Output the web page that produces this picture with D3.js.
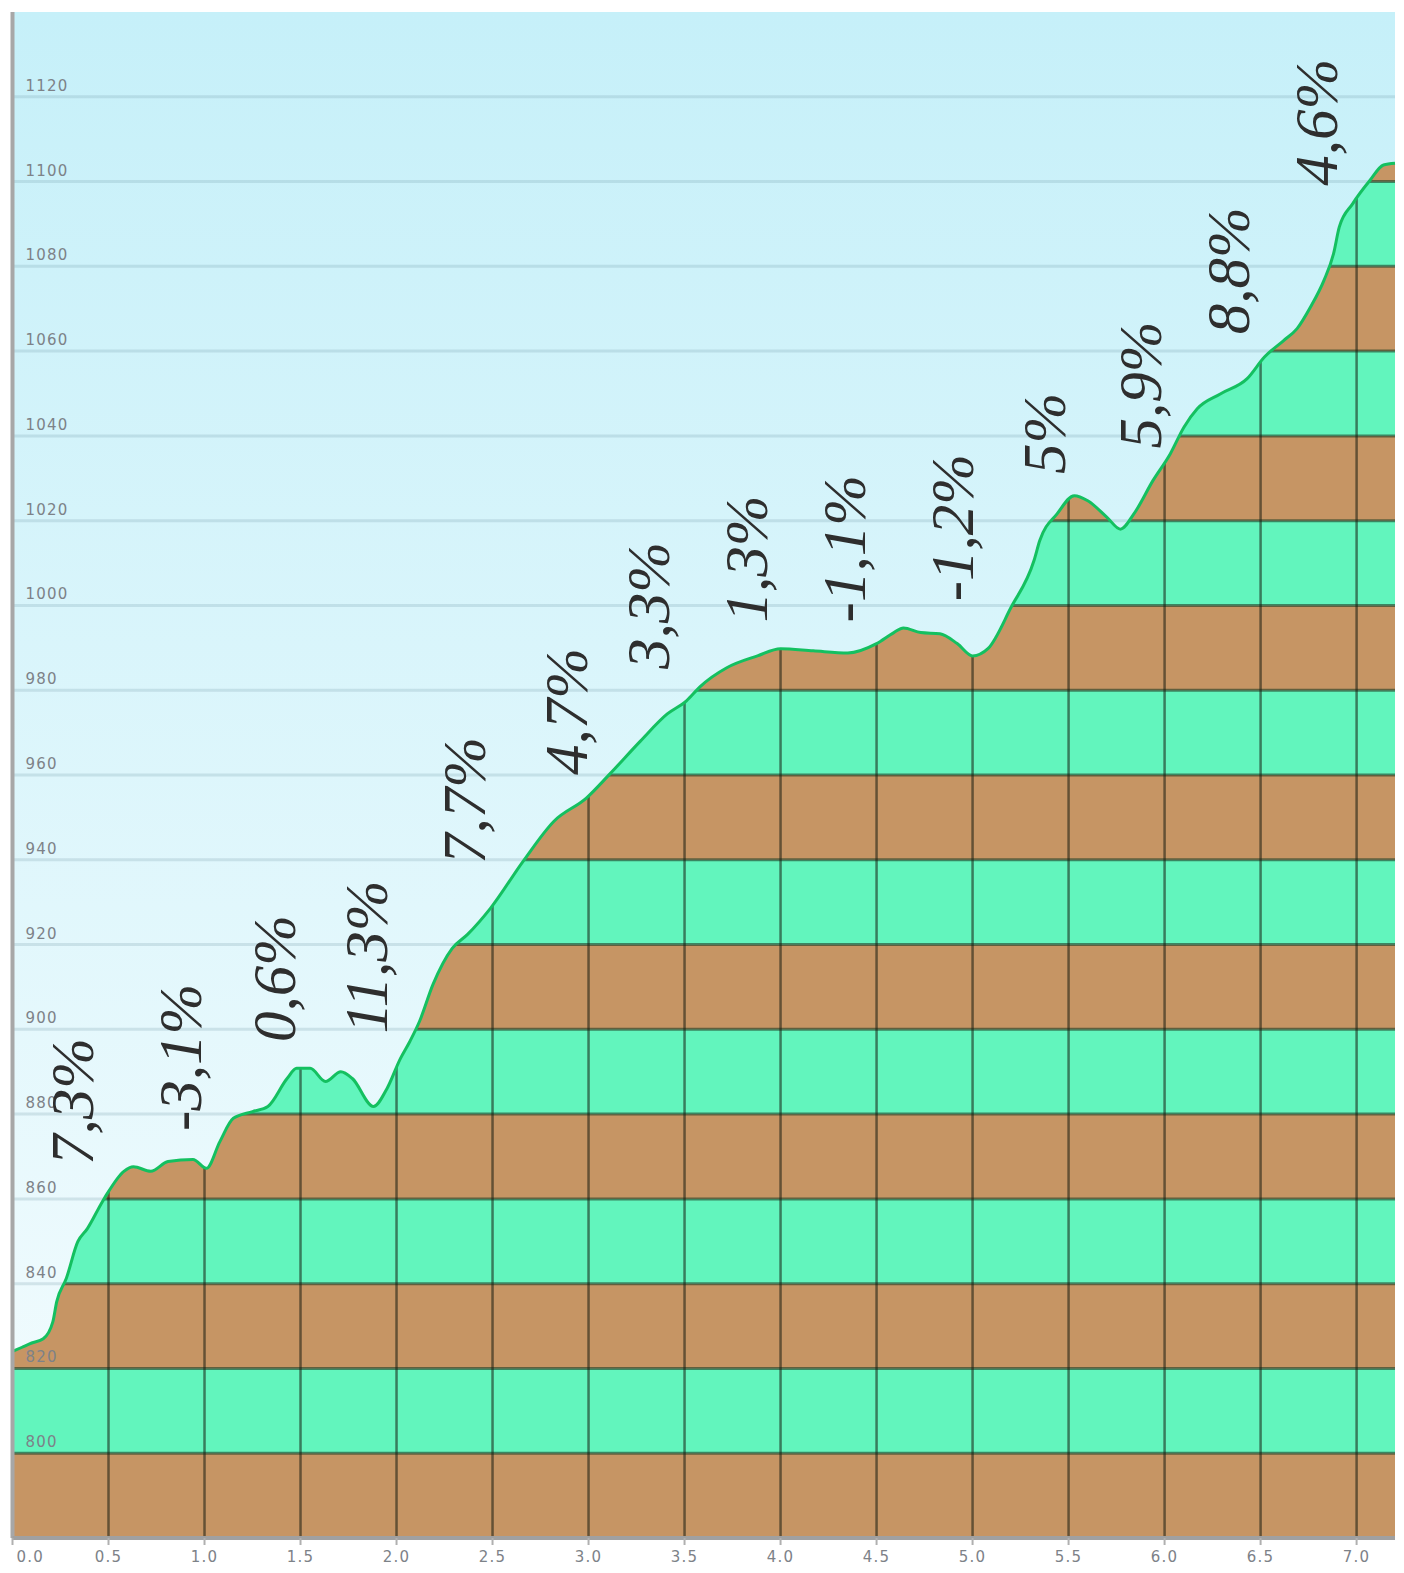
<!DOCTYPE html>
<html>
<head>
<meta charset="utf-8">
<script src="https://cdn.jsdelivr.net/npm/d3@7"></script>
<style>
  body { margin: 0; background: #ffffff; }
</style>
</head>
<body>
<svg width="1404" height="1573"></svg>
<script>
// Distance along the route (km) and elevation (m)
const distKm = [0.00, 0.05, 0.10, 0.16, 0.21, 0.23, 0.28, 0.34, 0.39, 0.46, 0.49, 0.58, 0.63, 0.72, 0.81, 0.94,
  1.01, 1.08, 1.15, 1.25, 1.33, 1.43, 1.48, 1.55, 1.63, 1.71, 1.77, 1.88, 1.95,
  2.02, 2.07, 2.12, 2.19, 2.29, 2.37, 2.49, 2.66, 2.82, 2.99,
  3.11, 3.27, 3.41, 3.51, 3.58, 3.72, 3.88, 4.00, 4.17, 4.35,
  4.50, 4.59, 4.64, 4.73, 4.83, 4.92, 5.00, 5.08, 5.20, 5.32, 5.35, 5.44,
  5.53, 5.60, 5.70, 5.77, 5.84, 5.94, 6.03, 6.10, 6.17, 6.29, 6.43,
  6.52, 6.62, 6.69, 6.76, 6.83, 6.88, 6.91, 6.98, 7.07, 7.14, 7.20];
const elevM = [824, 825, 826, 827, 831, 835.7, 841.2, 849.9, 853, 858.7, 861, 866.5, 867.6, 866.5, 868.8, 869.3,
  867.2, 873.5, 879, 880.6, 881.8, 888.4, 890.8, 890.8, 887.7, 890, 888.4, 881.8, 886,
  893.1, 897.2, 901.9, 910.6, 919.1, 922.4, 928.6, 939.7, 949.1, 954.6,
  960.2, 968, 974.4, 977.5, 980.8, 985.3, 988.1, 989.8, 989.3, 988.8,
  991, 993.6, 994.7, 993.6, 993.3, 991, 988.1, 989.8, 999.5, 1010.6, 1015.3, 1021.6,
  1025.9, 1024.7, 1020.8, 1018, 1021.6, 1029.5, 1035.8, 1042, 1046.4, 1049.9, 1053.5,
  1058.6, 1062.5, 1065.3, 1070.4, 1076.7, 1083, 1089.3, 1094.8, 1100.3, 1103.9, 1104.3];

// Gradient labels: text, km where they stand, elevation where they start
const gradeText = ["7,3%", "-3,1%", "0,6%", "11,3%", "7,7%", "4,7%", "3,3%",
  "1,3%", "-1,1%", "-1,2%", "5%", "5,9%", "8,8%", "4,6%"];
const gradeKm = [0.42, 0.98, 1.47, 1.95, 2.46, 2.99, 3.42, 3.93, 4.44, 5.00, 5.48, 5.98, 6.44, 6.90];
const gradeElev = [868, 876, 897, 899, 939, 960, 985, 996, 996, 1001, 1031, 1037, 1064, 1099];

// Axis ticks
const xTicks = [0, 0.5, 1, 1.5, 2, 2.5, 3, 3.5, 4, 4.5, 5, 5.5, 6, 6.5, 7];
const yTicks = [800, 820, 840, 860, 880, 900, 920, 940, 960, 980, 1000, 1020, 1040, 1060, 1080, 1100, 1120];

const profile = distKm.map((d, i) => ({ km: d, elev: elevM[i] }));

const svg = d3.select('svg');
const margin = { top: 12, right: 9, bottom: 35, left: 12.5 };
const width = +svg.attr('width');
const height = +svg.attr('height');
const innerW = width - margin.left - margin.right;
const innerH = height - margin.top - margin.bottom;

const xScale = d3.scaleLinear().domain([0, 7.2]).range([0, innerW]);
const yScale = d3.scaleLinear().domain([780, 1140]).range([innerH, 0]);

// Sky gradient
const defs = svg.append('defs');
const sky = defs.append('linearGradient').attr('id', 'sky')
  .attr('x1', 0).attr('y1', 0).attr('x2', 0).attr('y2', 1);
sky.append('stop').attr('offset', '0%').attr('stop-color', '#c6f0f9');
sky.append('stop').attr('offset', '100%').attr('stop-color', '#f4fcfe');

const area = d3.area()
  .x(d => xScale(d.km))
  .y0(innerH)
  .y1(d => yScale(d.elev))
  .curve(d3.curveMonotoneX);

const line = d3.line()
  .x(d => xScale(d.km))
  .y(d => yScale(d.elev))
  .curve(d3.curveMonotoneX);

defs.append('clipPath').attr('id', 'ground')
  .append('path').attr('d', area(profile));

const chartGroup = svg.append('g')
  .attr('transform', `translate(${margin.left}, ${margin.top})`);

chartGroup.append('rect')
  .attr('width', innerW).attr('height', innerH)
  .attr('fill', 'url(#sky)');

// Faint gridlines in the sky
chartGroup.append('g').selectAll('line').data(yTicks).enter().append('line')
  .attr('x1', 0).attr('x2', innerW)
  .attr('y1', d => yScale(d)).attr('y2', d => yScale(d))
  .attr('stroke', 'rgba(110,150,165,0.22)')
  .attr('stroke-width', 3);

// Ground: alternating 20 m bands, clipped to the profile
const bands = d3.range(780, 1140, 20);
const ground = chartGroup.append('g').attr('clip-path', 'url(#ground)');

ground.selectAll('rect').data(bands).enter().append('rect')
  .attr('x', 0).attr('width', innerW)
  .attr('y', d => yScale(d + 20))
  .attr('height', d => yScale(d) - yScale(d + 20))
  .attr('fill', (d, i) => i % 2 === 0 ? '#c69564' : '#62f5bd');

ground.append('g').selectAll('line').data(yTicks).enter().append('line')
  .attr('x1', 0).attr('x2', innerW)
  .attr('y1', d => yScale(d)).attr('y2', d => yScale(d))
  .attr('stroke', 'rgba(30,60,35,0.6)')
  .attr('stroke-width', 3);

ground.append('g').selectAll('line').data(xTicks).enter().append('line')
  .attr('x1', d => xScale(d)).attr('x2', d => xScale(d))
  .attr('y1', 0).attr('y2', innerH)
  .attr('stroke', 'rgba(20,25,15,0.55)')
  .attr('stroke-width', 2.5);

// Profile line
chartGroup.append('path')
  .datum(profile)
  .attr('d', line)
  .attr('fill', 'none')
  .attr('stroke', '#14c060')
  .attr('stroke-width', 3);

// Elevation labels sit just above their gridline
chartGroup.append('g').selectAll('text').data(yTicks).enter().append('text')
  .attr('x', 13)
  .attr('y', d => yScale(d) - 6)
  .attr('font-family', 'DejaVu Sans')
  .attr('font-size', 15)
  .attr('letter-spacing', 1.2)
  .attr('fill', '#7d8288')
  .text(d => d);

// Gradient labels, rotated
chartGroup.append('g').selectAll('text').data(gradeText).enter().append('text')
  .attr('transform', (d, i) => `translate(${xScale(gradeKm[i])}, ${yScale(gradeElev[i])}) rotate(-90)`)
  .attr('font-family', 'Liberation Serif')
  .attr('font-style', 'italic')
  .attr('font-size', 61)
  .attr('fill', '#2e2e2e')
  .text(d => d);

// Frame and x axis
chartGroup.append('line')
  .attr('x1', 0).attr('x2', 0).attr('y1', 0).attr('y2', innerH)
  .attr('stroke', '#a7a7a7').attr('stroke-width', 4);

const xAxisGroup = chartGroup.append('g')
  .attr('transform', `translate(0, ${innerH})`);

xAxisGroup.append('line')
  .attr('x1', 0).attr('x2', innerW)
  .attr('stroke', '#a0a0a0').attr('stroke-width', 4);

xAxisGroup.selectAll('line.tick').data(xTicks).enter().append('line')
  .attr('class', 'tick')
  .attr('x1', d => xScale(d)).attr('x2', d => xScale(d))
  .attr('y1', 0).attr('y2', 7)
  .attr('stroke', '#b0b0b0').attr('stroke-width', 2);

xAxisGroup.selectAll('text').data(xTicks).enter().append('text')
  .attr('x', d => d === 0 ? xScale(d) + 4 : xScale(d))
  .attr('y', 24)
  .attr('text-anchor', d => d === 0 ? 'start' : 'middle')
  .attr('font-family', 'DejaVu Sans')
  .attr('font-size', 15)
  .attr('letter-spacing', 1.2)
  .attr('fill', '#7d8288')
  .text(d => d.toFixed(1));
</script>
</body>
</html>
